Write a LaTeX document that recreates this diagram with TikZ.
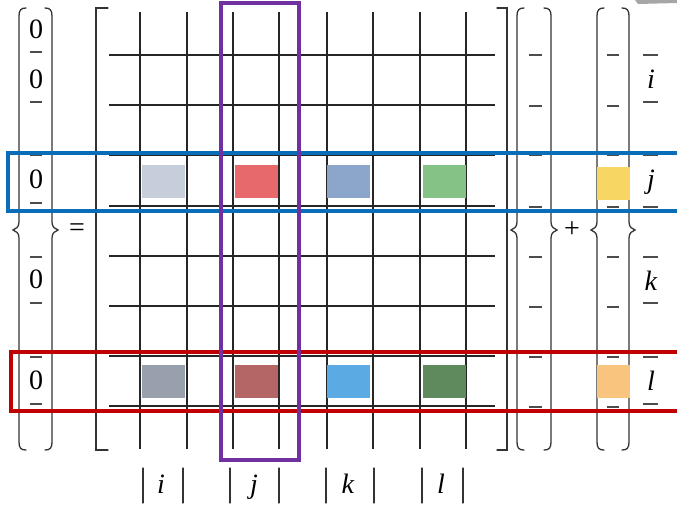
\documentclass[tikz,border=0pt]{standalone}
\usepackage{fontspec}
\setmainfont{Liberation Serif}
\newcommand\mybrace[2]{%
  \draw[brk] ({#1+7},8) .. controls ({#1+2},8) and (#1,10) .. (#1,16) -- (#1,222)
    .. controls (#1,227) and ({#1-3},229) .. ({#1-6},230)
    .. controls ({#1-3},231) and (#1,233) .. (#1,238) -- (#1,442)
    .. controls (#1,448) and ({#1+2},450) .. ({#1+7},450);
  \draw[brk] ({#2-7},8) .. controls ({#2-2},8) and (#2,10) .. (#2,16) -- (#2,222)
    .. controls (#2,227) and ({#2+3},229) .. ({#2+6},230)
    .. controls ({#2+3},231) and (#2,233) .. (#2,238) -- (#2,442)
    .. controls (#2,448) and ({#2-2},450) .. ({#2-7},450);
}
\begin{document}
\begin{tikzpicture}[x=1pt,y=-1pt,
  gridline/.style={line width=1.1pt, draw=black!85},
  brk/.style={line width=1.3pt, draw=black!80, line cap=round},
  dsh/.style={line width=1.1pt, draw=black!70},
  lbl/.style={font=\fontsize{28}{30}\selectfont, inner sep=0pt, anchor=base},
  sym/.style={font=\fontsize{28}{30}\selectfont, inner sep=0pt},
  sq/.style={minimum width=43pt, minimum height=33pt, inner sep=0pt, draw=none},
  ysq/.style={minimum width=33pt, minimum height=33pt, inner sep=0pt, draw=none},
  frame/.style={line width=3.5pt}]
\useasboundingbox (0,0) rectangle (677,504);
\fill[white] (0,0) rectangle (677,504);
\clip (0,0) rectangle (677,504);
\fill[gray!70] (635,0) -- (677,0) -- (677,3) -- (638,4) -- cycle;
% grid
\foreach \y in {55,105,155,206,256,306,356,406} \draw[gridline] (109,\y) -- (495,\y);
\foreach \x in {140,187,233,279,327,373,420,466} \draw[gridline] (\x,12) -- (\x,449);
% matrix brackets
\draw[brk] (108,8) -- (96,8) -- (96,450) -- (108,450);
\draw[brk] (497,8) -- (507,8) -- (507,450) -- (497,450);
% vector braces
\mybrace{19}{52}
\mybrace{517}{551}
\mybrace{597}{629}
% coloured squares, row j
\node[sq, fill={rgb,255:red,197;green,206;blue,218}] (j1) at (163.5,181.5) {};
\node[sq, fill={rgb,255:red,232;green,105;blue,107}] (j2) at (256.5,181.5) {};
\node[sq, fill={rgb,255:red,140;green,165;blue,203}] (j3) at (348.5,181.5) {};
\node[sq, fill={rgb,255:red,133;green,194;blue,133}] (j4) at (444.5,181.5) {};
\node[ysq, fill={rgb,255:red,248;green,214;blue,100}] (jy) at (613.5,183.5) {};
% coloured squares, row l
\node[sq, fill={rgb,255:red,152;green,160;blue,174}] (l1) at (163.5,381.5) {};
\node[sq, fill={rgb,255:red,180;green,101;blue,101}] (l2) at (256.5,381.5) {};
\node[sq, fill={rgb,255:red,91;green,170;blue,227}] (l3) at (348.5,381.5) {};
\node[sq, fill={rgb,255:red,94;green,138;blue,94}] (l4) at (444.5,381.5) {};
\node[ysq, fill={rgb,255:red,249;green,196;blue,126}] (ly) at (613.5,381.5) {};
% left vector
\node[lbl] (z1) at (36,38) {0};
\node[lbl] (z2) at (36,88) {0};
\node[lbl] (z3) at (36,188) {0};
\node[lbl] (z4) at (36,288) {0};
\node[lbl] (z5) at (36,389) {0};
\foreach \y in {52,102,155,203,257,303,357,404} \draw[dsh] (30,\y) -- (42,\y);
% right vectors
\foreach \y in {55,106,155,207,257,307,357,407} {
  \draw[dsh] (529,\y) -- (542,\y);
  \draw[dsh] (607,\y) -- (619,\y);
}
% row labels
\foreach \y in {55,102,155,207,257,303,357,404} \draw[dsh] (643,\y) -- (658,\y);
\node[lbl] (ri) at (651,88) {\textit{i}};
\node[lbl] (rj) at (651,188) {\textit{j}};
\node[lbl] (rk) at (651,290) {\textit{k}};
\node[lbl] (rl) at (651,390) {\textit{l}};
% operators
\node[sym] (eq) at (77,230) {=};
\node[sym] (pl) at (572,230) {+};
% bottom labels
\foreach \x in {143,183,230,279,326,374,422,463} \draw[brk] (\x,468) -- (\x,503);
\node[lbl] (bi) at (161,493) {\textit{i}};
\node[lbl] (bj) at (254,493) {\textit{j}};
\node[lbl] (bk) at (348,493) {\textit{k}};
\node[lbl] (bl) at (441,493) {\textit{l}};
% highlight frames
\draw[frame, draw={rgb,255:red,10;green,109;blue,184}] (8,153) rectangle (690,211);
\draw[frame, draw={rgb,255:red,192;green,0;blue,0}] (11,352) rectangle (690,411);
\draw[frame, draw={rgb,255:red,112;green,48;blue,160}] (221,3) rectangle (299,460);
\end{tikzpicture}
\end{document}
